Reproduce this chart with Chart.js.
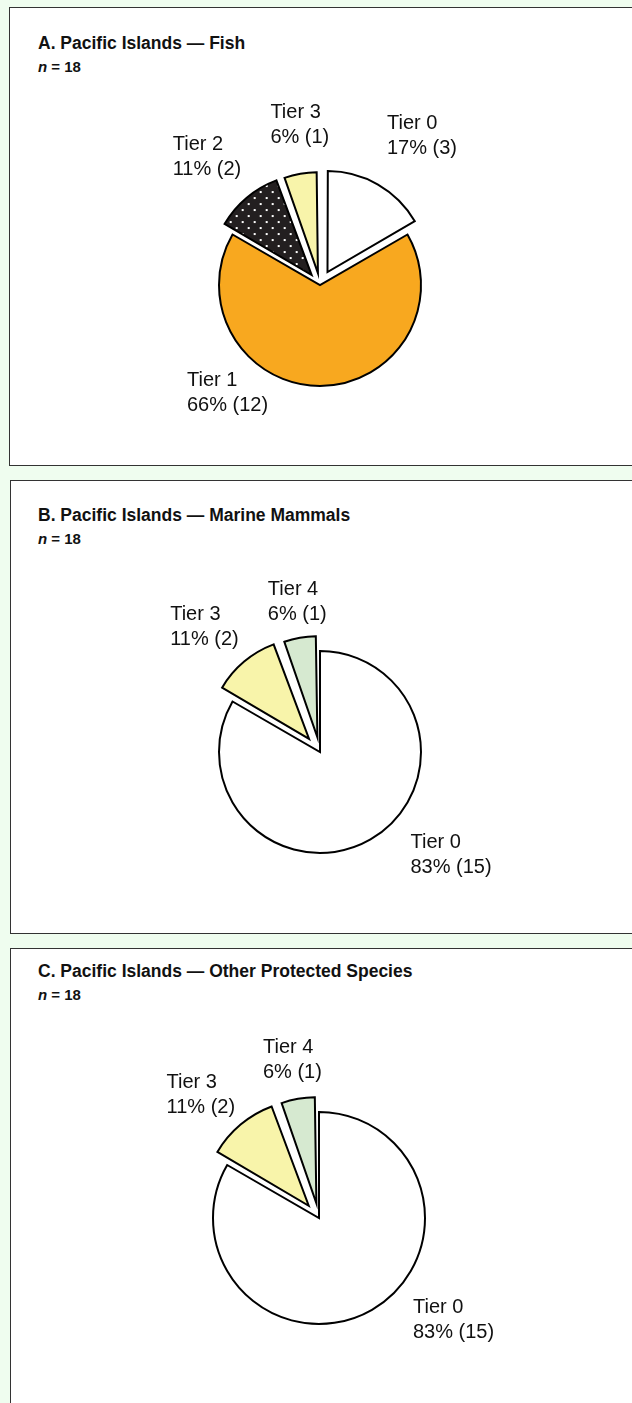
<!DOCTYPE html>
<html>
<head>
<meta charset="utf-8">
<script src="https://cdn.jsdelivr.net/npm/chart.js@4.4.1/dist/chart.umd.min.js"></script>
<style>
  html, body { margin: 0; padding: 0; }
  body {
    width: 632px; height: 1403px; overflow: hidden; position: relative;
    background: #effdef; font-family: "Liberation Sans", Arial, sans-serif; color: #111;
  }
  .panel { position: absolute; background: #fff; border: 1px solid #333; box-sizing: border-box; }
  .title { position: absolute; left: 38px; font-weight: bold; font-size: 17.5px; line-height: 1; white-space: nowrap; }
  .n { position: absolute; left: 38px; font-weight: bold; font-size: 15px; line-height: 1; }
  canvas { position: absolute; }
</style>
</head>
<body>

<div class="panel" style="left:9px; top:7px; width:640px; height:459px;"></div>
<div class="panel" style="left:10px; top:480px; width:640px; height:454px;"></div>
<div class="panel" style="left:10px; top:948px; width:640px; height:480px;"></div>

<div class="title" style="top:35px;">A. Pacific Islands — Fish</div>
<div class="n" style="top:59px;"><i>n</i> = 18</div>
<div class="title" style="top:507px;">B. Pacific Islands — Marine Mammals</div>
<div class="n" style="top:531px;"><i>n</i> = 18</div>
<div class="title" style="top:963px;">C. Pacific Islands — Other Protected Species</div>
<div class="n" style="top:987px;"><i>n</i> = 18</div>

<canvas id="pie-a" width="600" height="400" style="left:20px; top:85px;"></canvas>
<canvas id="pie-b" width="600" height="400" style="left:20px; top:552px;"></canvas>
<canvas id="pie-c" width="600" height="380" style="left:19px; top:1028px;"></canvas>

<script>
// DATA
const tiersA = ["Tier 0", "Tier 1", "Tier 2", "Tier 3"];
const countsA = [3, 12, 2, 1];
const pctA = ["17%", "66%", "11%", "6%"];

const tiersB = ["Tier 0", "Tier 3", "Tier 4"];
const countsB = [15, 2, 1];
const pctB = ["83%", "11%", "6%"];

const tiersC = ["Tier 0", "Tier 3", "Tier 4"];
const countsC = [15, 2, 1];
const pctC = ["83%", "11%", "6%"];

// dotted fill for tier 2
function dots() {
    const c = document.createElement("canvas");
    c.width = 12; c.height = 12;
    const g = c.getContext("2d");
    g.fillStyle = "#231f20";
    g.fillRect(0, 0, 12, 12);
    g.fillStyle = "#fff";
    g.fillRect(2, 2, 2, 2);
    g.fillRect(8, 8, 2, 2);
    return g.createPattern(c, "repeat");
}

const tierColor = {
    "Tier 0": "#ffffff",
    "Tier 1": "#f8a81f",
    "Tier 2": dots(),
    "Tier 3": "#f8f4aa",
    "Tier 4": "#d6e9d0",
};

// Chart.js grows small exploded slices a little; keep them at the pie radius
const keepRadius = {
    id: "keepRadius",
    afterDatasetUpdate(chart) {
        chart.getDatasetMeta(0).data.forEach(arc => {
            const t = (arc.options.offset || 0) / 4;
            const fix = 1 - Math.sin(Math.min(Math.PI, arc.circumference));
            arc.outerRadius -= t * fix;
        });
    },
};

// labels sit next to the outer edge of each slice
const sliceLabels = {
    id: "sliceLabels",
    afterDatasetsDraw(chart, args, opts) {
        const ctx = chart.ctx;
        const meta = chart.getDatasetMeta(0);
        const radius = chart.options.radius;
        ctx.save();
        ctx.font = "20px 'Liberation Sans', Arial, sans-serif";
        ctx.fillStyle = "#111";
        ctx.textAlign = "left";
        ctx.textBaseline = "middle";
        meta.data.forEach((arc, i) => {
            const p = arc.getProps(["x", "y", "startAngle", "endAngle"], true);
            const t = (arc.options.offset || 0) / 4;
            const mid = (p.startAngle + p.endAngle) / 2;
            const r = radius + t;
            const x = p.x + Math.cos(mid) * r + opts.nudge[i][0];
            const y = p.y + Math.sin(mid) * r + opts.nudge[i][1];
            ctx.fillText(chart.data.labels[i], x, y);
            ctx.fillText(opts.pct[i] + " (" + chart.data.datasets[0].data[i] + ")", x, y + 25);
        });
        ctx.restore();
    },
};

function makePie(id, tiers, counts, pct, radius, offsets, nudge) {
    new Chart(document.getElementById(id), {
        type: "pie",
        data: {
            labels: tiers,
            datasets: [{
                data: counts,
                backgroundColor: tiers.map(t => tierColor[t]),
                borderColor: "#000",
                borderWidth: 2,
                borderJoinStyle: "miter",
                offset: offsets,
            }],
        },
        options: {
            responsive: false,
            animation: false,
            events: [],
            radius: radius,
            layout: { padding: 0 },
            plugins: {
                legend: { display: false },
                tooltip: { enabled: false },
                sliceLabels: { pct: pct, nudge: nudge },
            },
        },
        plugins: [keepRadius, sliceLabels],
    });
}

makePie("pie-a", tiersA, countsA, pctA, 101, [60, 0, 52, 48],
    [[9, -61], [-133, -6], [-74, -53], [-30, -61]]);
makePie("pie-b", tiersB, countsB, pctB, 101, [0, 68, 60],
    [[40, 3], [-74, -47], [-32, -48]]);
makePie("pie-c", tiersC, countsC, pctC, 106, [0, 64, 60],
    [[41, -2], [-74, -42], [-35, -51]]);
</script>
</body>
</html>
